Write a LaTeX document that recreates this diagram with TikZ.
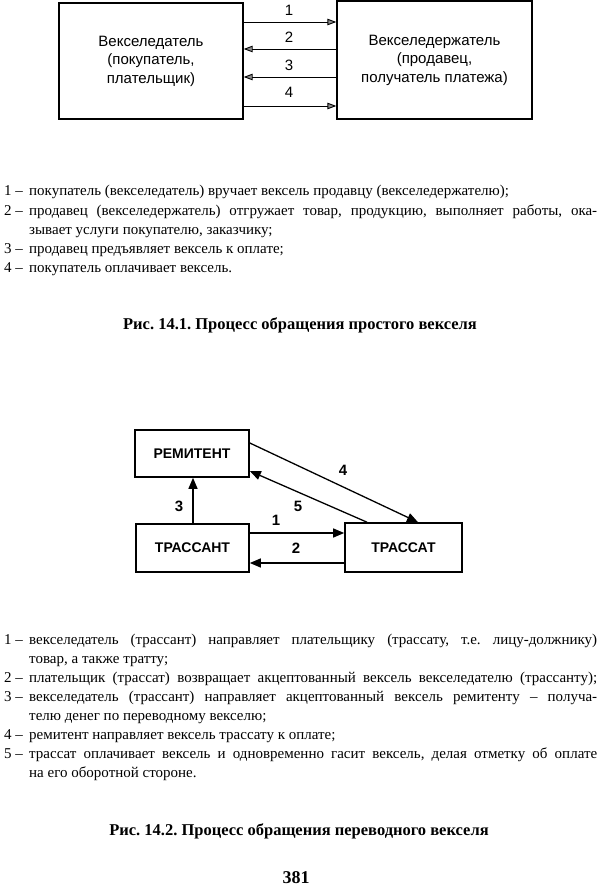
\documentclass[tikz,border=0pt]{standalone}
\usepackage{fontspec}
\usepackage{graphicx}
\setmainfont{Liberation Serif}
\newfontfamily\diagfont{Liberation Sans}
\usetikzlibrary{arrows.meta}
\frenchspacing
\newsavebox\jlbox
\newcommand{\jl}[1]{\sbox\jlbox{#1}%
  \ifdim\wd\jlbox>568pt
    \pgfmathsetmacro\jlf{568/\the\wd\jlbox}\scalebox{\jlf}[1]{\usebox\jlbox}%
  \else\makebox[568pt][s]{#1}\fi}
\begin{document}
\begin{tikzpicture}[x=1pt,y=-1pt,
  boxA/.style={draw, line width=1.3pt, inner sep=0pt, align=center,
    font=\diagfont\fontsize{15}{18.5}\selectfont},
  boxB/.style={draw, line width=1.6pt, inner sep=0pt,
    font=\diagfont\bfseries\fontsize{14}{16}\selectfont},
  labA/.style={font=\diagfont\fontsize{15}{16}\selectfont, inner sep=0pt},
  labB/.style={font=\diagfont\bfseries\fontsize{15}{16}\selectfont, inner sep=0pt},
  arrA/.style={-{Triangle[length=9pt,width=6.5pt,fill=black!45]}, line width=0.9pt},
  arrB/.style={-{Triangle[length=11pt,width=9pt]}, line width=1.3pt},
  num/.style={anchor=base west, inner sep=0pt, font=\fontsize{15}{18}\selectfont},
  txt/.style={anchor=base west, inner sep=0pt, font=\fontsize{15}{18}\selectfont},
  capt/.style={anchor=base, inner sep=0pt, font=\bfseries\fontsize{16.5}{18}\selectfont}
]
\useasboundingbox (0,0) rectangle (600,890);

% ---------- Figure 14.1 ----------
\node[boxA, minimum width=184pt, minimum height=116pt] (vd) at (151,61)
  {Векселедатель\\(покупатель,\\плательщик)};
\node[boxA, minimum width=195pt, minimum height=118pt] (vh) at (434.5,60)
  {Векселедержатель\\(продавец,\\получатель платежа)};

\draw[arrA] (vd.east |- 0,22) -- (vh.west |- 0,22);
\draw[arrA] (vh.west |- 0,49) -- (vd.east |- 0,49);
\draw[arrA] (vh.west |- 0,77) -- (vd.east |- 0,77);
\draw[arrA] (vd.east |- 0,106) -- (vh.west |- 0,106);
\node[labA] (a1) at (289,10) {1};
\node[labA] (a2) at (289,37) {2};
\node[labA] (a3) at (289,65) {3};
\node[labA] (a4) at (289,92) {4};

\node[num] (n11) at (4,196) {1 –};
\node[txt] (t11) at (29,196) {покупатель (векселедатель) вручает вексель продавцу (векселедержателю);};
\node[num] (n12) at (4,215.2) {2 –};
\node[txt] (t12) at (29,215.2) {\jl{продавец (векселедержатель) отгружает товар, продукцию, выполняет работы, ока-}};
\node[txt] (t12b) at (29,234.4) {зывает услуги покупателю, заказчику;};
\node[num] (n13) at (4,253.6) {3 –};
\node[txt] (t13) at (29,253.6) {продавец предъявляет вексель к оплате;};
\node[num] (n14) at (4,272.8) {4 –};
\node[txt] (t14) at (29,272.8) {покупатель оплачивает вексель.};

\node[capt] (c1) at (300,329) {Рис. 14.1. Процесс обращения простого векселя};

% ---------- Figure 14.2 ----------
\node[boxB, minimum width=114pt, minimum height=47pt] (rem) at (192,453.5) {РЕМИТЕНТ};
\node[boxB, minimum width=113pt, minimum height=48pt] (trs) at (192.5,548) {ТРАССАНТ};
\node[boxB, minimum width=117pt, minimum height=49pt] (trt) at (403.5,547.5) {ТРАССАТ};

\draw[arrB] (trs.north -| 193,0) -- (rem.south -| 193,0);
\draw[arrB] (trs.east |- 0,533) -- (trt.west |- 0,533);
\draw[arrB] (trt.west |- 0,563) -- (trs.east |- 0,563);
\draw[arrB] (rem.east |- 0,443) -- (trt.north -| 418,0);
\draw[arrB] (trt.north -| 367,0) -- (rem.east |- 0,471);
\node[labB] (b3) at (179,506) {3};
\node[labB] (b1) at (276,520) {1};
\node[labB] (b2) at (296,548) {2};
\node[labB] (b5) at (298,506) {5};
\node[labB] (b4) at (343,470) {4};

\node[num] (n21) at (4,644) {1 –};
\node[txt] (t21) at (29,644) {\jl{векселедатель (трассант) направляет плательщику (трассату, т.е.\ лицу-должнику)}};
\node[txt] (t21b) at (29,663.1) {товар, а также тратту;};
\node[num] (n22) at (4,682.2) {2 –};
\node[txt] (t22) at (29,682.2) {\jl{плательщик (трассат) возвращает акцептованный вексель векселедателю (трассанту);}};
\node[num] (n23) at (4,701.3) {3 –};
\node[txt] (t23) at (29,701.3) {\jl{векселедатель (трассант) направляет акцептованный вексель ремитенту – получа-}};
\node[txt] (t23b) at (29,720.4) {телю денег по переводному векселю;};
\node[num] (n24) at (4,739.5) {4 –};
\node[txt] (t24) at (29,739.5) {ремитент направляет вексель трассату к оплате;};
\node[num] (n25) at (4,758.6) {5 –};
\node[txt] (t25) at (29,758.6) {\jl{трассат оплачивает вексель и одновременно гасит вексель, делая отметку об оплате}};
\node[txt] (t25b) at (29,777.7) {на его оборотной стороне.};

\node[capt] (c2) at (299,835) {Рис. 14.2. Процесс обращения переводного векселя};
\node[capt, font=\bfseries\fontsize{18}{20}\selectfont] (pg) at (296,883) {381};
\end{tikzpicture}
\end{document}
